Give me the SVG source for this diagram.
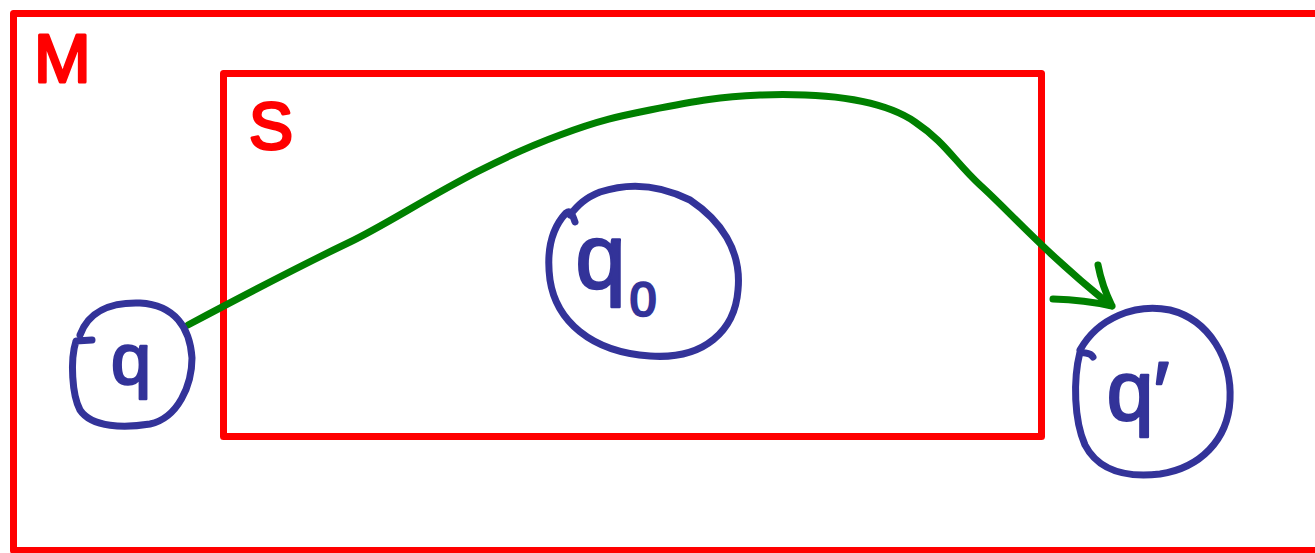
<svg xmlns="http://www.w3.org/2000/svg" width="1315" height="553" viewBox="0 0 1315 553">
<style>
.box{fill:none;stroke:#ff0000;stroke-width:7;stroke-linejoin:round}
.rl{fill:#ff0000;stroke:#ff0000;stroke-width:3;stroke-linejoin:round;font-family:"Liberation Sans",Arial,sans-serif}
.node{fill:none;stroke:#333399;stroke-width:7;stroke-linecap:round;stroke-linejoin:round}
.nl{fill:#333399;stroke:#333399;stroke-width:2.5;stroke-linejoin:round;font-family:"Liberation Sans",Arial,sans-serif;text-anchor:middle}
.edge{fill:none;stroke:#008000;stroke-width:7;stroke-linecap:round;stroke-linejoin:round}
</style>
<rect width="1315" height="553" fill="#ffffff"/>
<g id="M">
<rect class="box" x="13.5" y="13.5" width="1400" height="537"/>
<text class="rl" x="34" y="82" font-size="68">M</text>
</g>
<g id="S">
<rect class="box" x="223.5" y="73.5" width="818" height="363"/>
<text class="rl" x="249" y="149" font-size="66">S</text>
</g>
<g id="connectors">
<path class="edge" d="M188,325 C250,292 300,266 350,242 C400,218 470,168 560,135 C600,120 620,116 650,110 C700,100 720,97 760,95 C820,93 880,98 915,122 C945,142 955,162 980,185 C1010,212 1040,248 1110,305"/>
<path class="edge" d="M1098,265 Q1102,286 1112,306 M1053,299 Q1085,300 1112,306"/>
</g>
<g id="q">
<path class="node" d="M92,340 L76,341 C70,360 72,395 80,410 C92,428 125,428 150,424 C178,418 192,385 192,358 C190,328 175,305 140,303 C110,302 88,312 80,335"/>
<text class="nl" x="131" y="384" font-size="72">q</text>
</g>
<g id="q0">
<path class="node" d="M575,222 C572,213 570,210 566,213 C552,228 546,250 550,280 C556,320 590,352 650,356 C705,360 735,330 738,290 C742,250 720,220 690,200 C660,185 630,182 600,192 C585,198 578,205 570,215"/>
<text class="nl" x="616" y="288" font-size="90">q<tspan font-size="48" dx="4" dy="28">0</tspan></text>
</g>
<g id="q_prime">
<path class="node" d="M1093,357 C1090,352 1086,354 1080,352 C1073,380 1074,420 1085,445 C1098,470 1125,478 1160,474 C1200,468 1228,440 1230,400 C1232,360 1210,320 1170,310 C1135,303 1098,318 1080,350"/>
<text class="nl" x="1138" y="420" font-size="84">q′</text>
</g>
</svg>
